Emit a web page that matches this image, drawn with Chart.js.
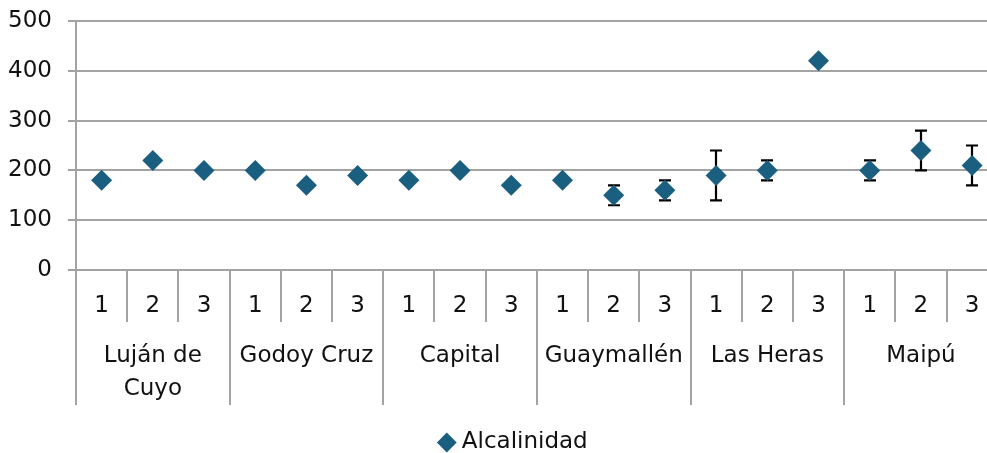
<!DOCTYPE html>
<html><head><meta charset="utf-8">
<script src="https://cdn.jsdelivr.net/npm/chart.js@4/dist/chart.umd.min.js"></script>
<style>html,body{margin:0;padding:0;background:#fff}#wrap{width:987px;height:453px}</style>
</head><body><div id="wrap"><canvas id="c"></canvas></div>
<script>
const groups = [["Luján de","Cuyo"],["Godoy Cruz"],["Capital"],["Guaymallén"],["Las Heras"],["Maipú"]];
const subLabels = ["1","2","3"];
const seriesName = "Alcalinidad";
const values  = [180,220,200, 200,170,190, 180,200,170, 180,150,160, 190,200,420, 200,240,210];
const errLow  = [null,null,null, null,null,null, null,null,null, null,130,140, 140,180,null, 180,200,170];
const errHigh = [null,null,null, null,null,null, null,null,null, null,170,180, 240,220,null, 220,280,250];
const yTicks = [0,100,200,300,400,500];

const FONT = "DejaVu Sans";
const FS = 23;
const GRID = '#a3a3a3';
const MARK = '#1b5f80';

const points = values.map((v,i)=>({x:i+1,y:v}));

const errorBars = {
  id:'errorBars',
  beforeDatasetsDraw(chart){
    const {ctx, scales:{x,y}} = chart;
    ctx.save();
    ctx.strokeStyle='#000'; ctx.lineWidth=2.2;
    values.forEach((v,i)=>{
      if(errLow[i]==null) return;
      const px=Math.round(x.getPixelForValue(i+1));
      const y1=y.getPixelForValue(errLow[i]), y2=y.getPixelForValue(errHigh[i]);
      ctx.beginPath();
      ctx.moveTo(px,y1); ctx.lineTo(px,y2);
      ctx.moveTo(px-6,y1); ctx.lineTo(px+6,y1);
      ctx.moveTo(px-6,y2); ctx.lineTo(px+6,y2);
      ctx.stroke();
    });
    ctx.restore();
  }
};

const catAxis = {
  id:'catAxis',
  afterLayout(chart){
    if(chart.legend){ chart.legend.left += 22; chart.legend.right += 22; }
  },
  afterDraw(chart){
    const {ctx, chartArea:a, scales:{x}} = chart;
    const b=a.bottom;
    ctx.save();
    ctx.strokeStyle=GRID; ctx.lineWidth=2;
    const n=groups.length*subLabels.length;
    for(let i=0;i<=n;i++){
      const px=Math.round(x.getPixelForValue(i+0.5));
      if(px>a.right+2) continue;
      ctx.beginPath();
      ctx.moveTo(px,b);
      ctx.lineTo(px, b + (i%subLabels.length===0 ? 135 : 52));
      ctx.stroke();
    }
    ctx.fillStyle='#111';
    ctx.font=FS+'px "'+FONT+'"';
    ctx.textAlign='center'; ctx.textBaseline='middle';
    for(let i=0;i<n;i++){
      ctx.fillText(subLabels[i%subLabels.length], x.getPixelForValue(i+1), b+36);
    }
    groups.forEach((g,gi)=>{
      const cx=x.getPixelForValue(gi*subLabels.length+2);
      g.forEach((line,li)=>ctx.fillText(line,cx,b+86+li*33));
    });
    ctx.restore();
  }
};

new Chart(document.getElementById('c'),{
  type:'scatter',
  data:{datasets:[{
    label:seriesName,
    data:points,
    pointStyle:'rectRot',
    pointRadius:10.5,
    pointHoverRadius:10.5,
    backgroundColor:MARK,
    borderColor:MARK,
    borderWidth:0
  }]},
  options:{
    responsive:true, maintainAspectRatio:false, animation:false,
    layout:{autoPadding:false,padding:{top:21,right:0,left:0,bottom:-11}},
    plugins:{
      tooltip:{enabled:false},
      legend:{
        position:'bottom',
        labels:{usePointStyle:true,boxWidth:7,boxHeight:14,color:'#111',
          font:{family:FONT,size:FS},padding:0}
      }
    },
    scales:{
      x:{type:'linear',min:0.5,max:18.29,
        grid:{display:false},border:{display:false},
        ticks:{display:false},
        afterFit(s){s.height=161;}
      },
      y:{min:0,max:500,
        afterBuildTicks(s){s.ticks=yTicks.map(v=>({value:v}));},
        afterFit(s){s.width=76; s.paddingTop=0; s.paddingBottom=0;},
        grid:{color:GRID,lineWidth:2,tickLength:8},
        border:{color:GRID,width:2},
        ticks:{color:'#111',padding:16,font:{family:FONT,size:FS}}
      }
    }
  },
  plugins:[errorBars,catAxis]
});
</script></body></html>
